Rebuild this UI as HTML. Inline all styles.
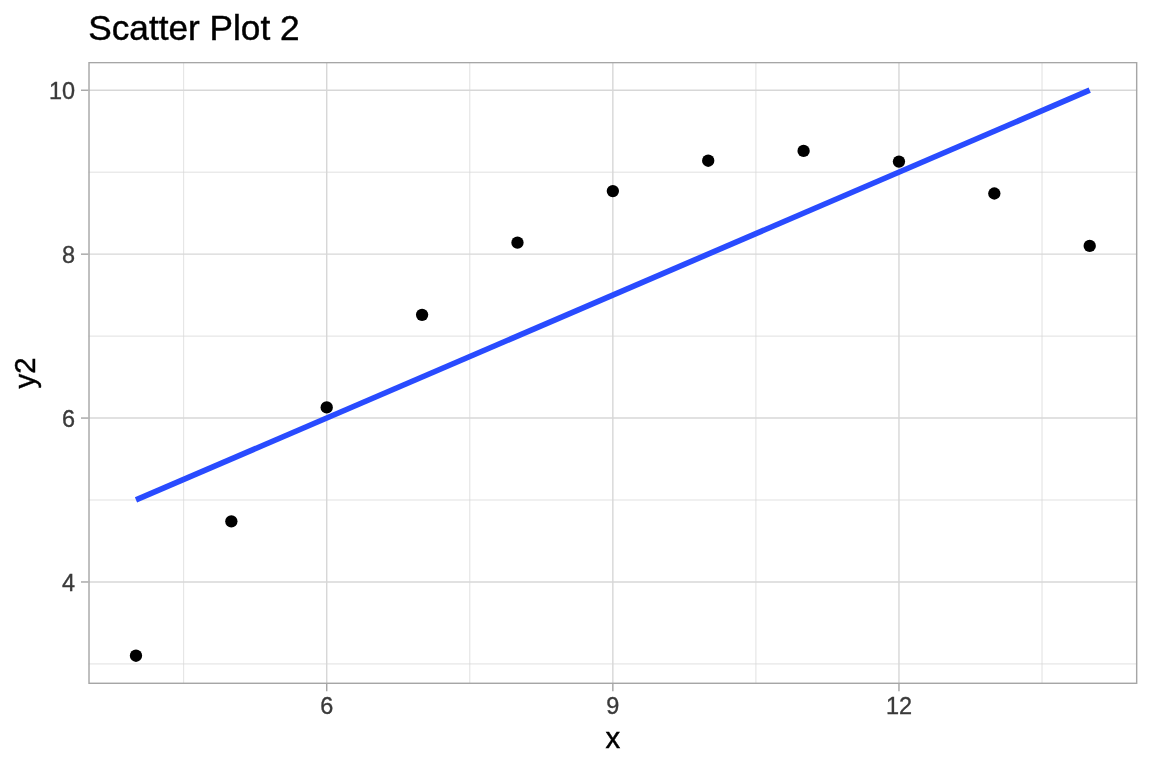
<!DOCTYPE html><html><head><meta charset="utf-8"><title>Scatter Plot 2</title>
<style>html,body{margin:0;padding:0;background:#fff}svg{display:block;will-change:transform}text{font-family:"Liberation Sans",Arial,Helvetica,sans-serif}</style></head><body>
<svg width="1152" height="768" viewBox="0 0 1152 768">
<rect width="1152" height="768" fill="#fff"/>
<defs><clipPath id="p"><rect x="88.29" y="61.90" width="1049.10" height="622.10"/></clipPath></defs>
<g clip-path="url(#p)">
<g stroke="#D7D7D7" stroke-width="0.76" fill="none">
<line x1="88.29" x2="1137.39" y1="663.92" y2="663.92"/>
<line x1="88.29" x2="1137.39" y1="500.01" y2="500.01"/>
<line x1="88.29" x2="1137.39" y1="336.11" y2="336.11"/>
<line x1="88.29" x2="1137.39" y1="172.20" y2="172.20"/>
<line x1="183.66" x2="183.66" y1="61.90" y2="684.00"/>
<line x1="469.78" x2="469.78" y1="61.90" y2="684.00"/>
<line x1="755.90" x2="755.90" y1="61.90" y2="684.00"/>
<line x1="1042.02" x2="1042.02" y1="61.90" y2="684.00"/>
</g>
<g stroke="#D7D7D7" stroke-width="1.42" fill="none">
<line x1="88.29" x2="1137.39" y1="581.97" y2="581.97"/>
<line x1="88.29" x2="1137.39" y1="418.06" y2="418.06"/>
<line x1="88.29" x2="1137.39" y1="254.16" y2="254.16"/>
<line x1="88.29" x2="1137.39" y1="90.25" y2="90.25"/>
<line x1="326.72" x2="326.72" y1="61.90" y2="684.00"/>
<line x1="612.84" x2="612.84" y1="61.90" y2="684.00"/>
<line x1="898.96" x2="898.96" y1="61.90" y2="684.00"/>
</g>
<g fill="#000">
<circle cx="135.98" cy="655.72" r="6.16"/>
<circle cx="231.35" cy="521.32" r="6.16"/>
<circle cx="326.72" cy="407.41" r="6.16"/>
<circle cx="422.09" cy="314.80" r="6.16"/>
<circle cx="517.47" cy="242.68" r="6.16"/>
<circle cx="612.84" cy="191.05" r="6.16"/>
<circle cx="708.21" cy="160.73" r="6.16"/>
<circle cx="803.59" cy="150.90" r="6.16"/>
<circle cx="898.96" cy="161.55" r="6.16"/>
<circle cx="994.33" cy="193.51" r="6.16"/>
<circle cx="1089.70" cy="245.96" r="6.16"/>
</g>
<line x1="135.98" y1="499.94" x2="1089.70" y2="90.18" stroke="#294BFF" stroke-width="5.69"/>
<rect x="88.29" y="61.90" width="1049.10" height="622.10" fill="none" stroke="#A6A6A6" stroke-width="2.85"/>
</g>
<g stroke="#A6A6A6" stroke-width="1.42">
<line x1="80.99" x2="88.29" y1="581.97" y2="581.97"/>
<line x1="80.99" x2="88.29" y1="418.06" y2="418.06"/>
<line x1="80.99" x2="88.29" y1="254.16" y2="254.16"/>
<line x1="80.99" x2="88.29" y1="90.25" y2="90.25"/>
<line x1="326.72" x2="326.72" y1="684.00" y2="691.30"/>
<line x1="612.84" x2="612.84" y1="684.00" y2="691.30"/>
<line x1="898.96" x2="898.96" y1="684.00" y2="691.30"/>
</g>
<g fill="#3A3A3A" stroke="#3A3A3A" stroke-width="0.35" font-size="23.47px">
<text x="75.1" y="590.72" text-anchor="end">4</text>
<text x="75.1" y="426.81" text-anchor="end">6</text>
<text x="75.1" y="262.91" text-anchor="end">8</text>
<text x="75.1" y="99.00" text-anchor="end">10</text>
<text x="326.72" y="714.0" text-anchor="middle">6</text>
<text x="612.84" y="714.0" text-anchor="middle">9</text>
<text x="898.96" y="714.0" text-anchor="middle">12</text>
</g>
<text x="612.84" y="747.8" text-anchor="middle" font-size="29.33px" fill="#000" stroke="#000" stroke-width="0.45">x</text>
<text transform="translate(35.4 372.95) rotate(-90)" text-anchor="middle" font-size="29.33px" fill="#000" stroke="#000" stroke-width="0.45">y2</text>
<text x="88.29" y="40.4" font-size="35.2px" fill="#000" stroke="#000" stroke-width="0.45">Scatter Plot 2</text>
</svg></body></html>
